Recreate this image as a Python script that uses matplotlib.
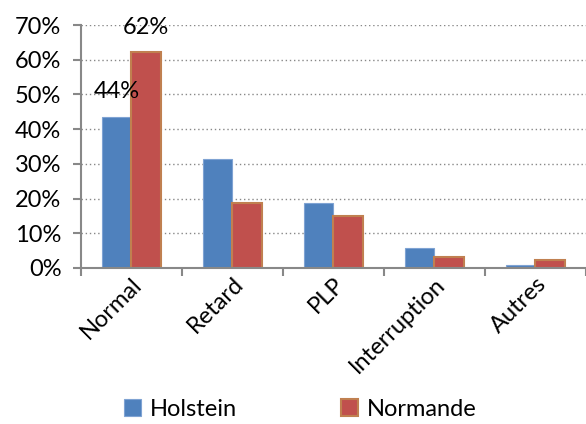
import numpy as np
import matplotlib.pyplot as plt
from matplotlib.ticker import FixedLocator

plt.rcParams['font.family'] = ['Lato', 'DejaVu Sans']

categories = ['Normal', 'Retard', 'PLP', 'Interruption', 'Autres']
holstein = [43.5, 31.4, 18.7, 5.7, 0.9]
normande = [62.2, 18.6, 15.0, 3.1, 2.2]

fig = plt.figure(figsize=(5.86, 4.24), dpi=100)
ax = fig.add_axes([0.138, 0.368, 0.862, 0.573])

x = np.arange(len(categories))
w = 0.29
b1 = ax.bar(x - w / 2, holstein, w, color='#4F81BD', edgecolor='#7fa3d3', linewidth=0.8, label='Holstein')
b2 = ax.bar(x + w / 2, normande, w, color='#C0504D', edgecolor='#c08050', linewidth=1.5, label='Normande')

# only the first group carries data labels
ax.annotate('44%', (x[0] - w / 2, holstein[0]), xytext=(0, 11), textcoords='offset points',
            ha='center', va='bottom', fontsize=17)
ax.annotate('62%', (x[0] + w / 2, normande[0]), xytext=(0, 10), textcoords='offset points',
            ha='center', va='bottom', fontsize=17)

ax.set_ylim(0, 70)
ax.set_xlim(-0.5, len(categories) - 0.5)
ax.set_yticks(range(0, 71, 10))
ax.set_yticklabels([f'{v}%' for v in range(0, 71, 10)], fontsize=17)
ax.yaxis.grid(True, linestyle=(0, (1, 2)), color='#888888', linewidth=1)
ax.set_axisbelow(True)

ax.set_xticks(x)
ax.set_xticklabels(categories, rotation=45, ha='right', va='top', rotation_mode='anchor', fontsize=17)
ax.tick_params(axis='x', which='major', length=0, pad=4)
ax.xaxis.set_minor_locator(FixedLocator(np.arange(-0.5, len(categories), 1)))
ax.tick_params(axis='x', which='minor', length=6, width=1.5, color='#888888')
ax.tick_params(axis='y', length=6, width=1.5, color='#888888', pad=8)

for s in ['top', 'right']:
    ax.spines[s].set_visible(False)
for s in ['left', 'bottom']:
    ax.spines[s].set_color('#888888')
    ax.spines[s].set_linewidth(1.5)

fig.legend(handles=[b1, b2], loc='lower left', bbox_to_anchor=(0.176, -0.04), ncol=2, frameon=False,
           fontsize=17, handlelength=0.7, handleheight=0.7, columnspacing=4.4, handletextpad=0.4)

plt.savefig('out.png', dpi=100)
